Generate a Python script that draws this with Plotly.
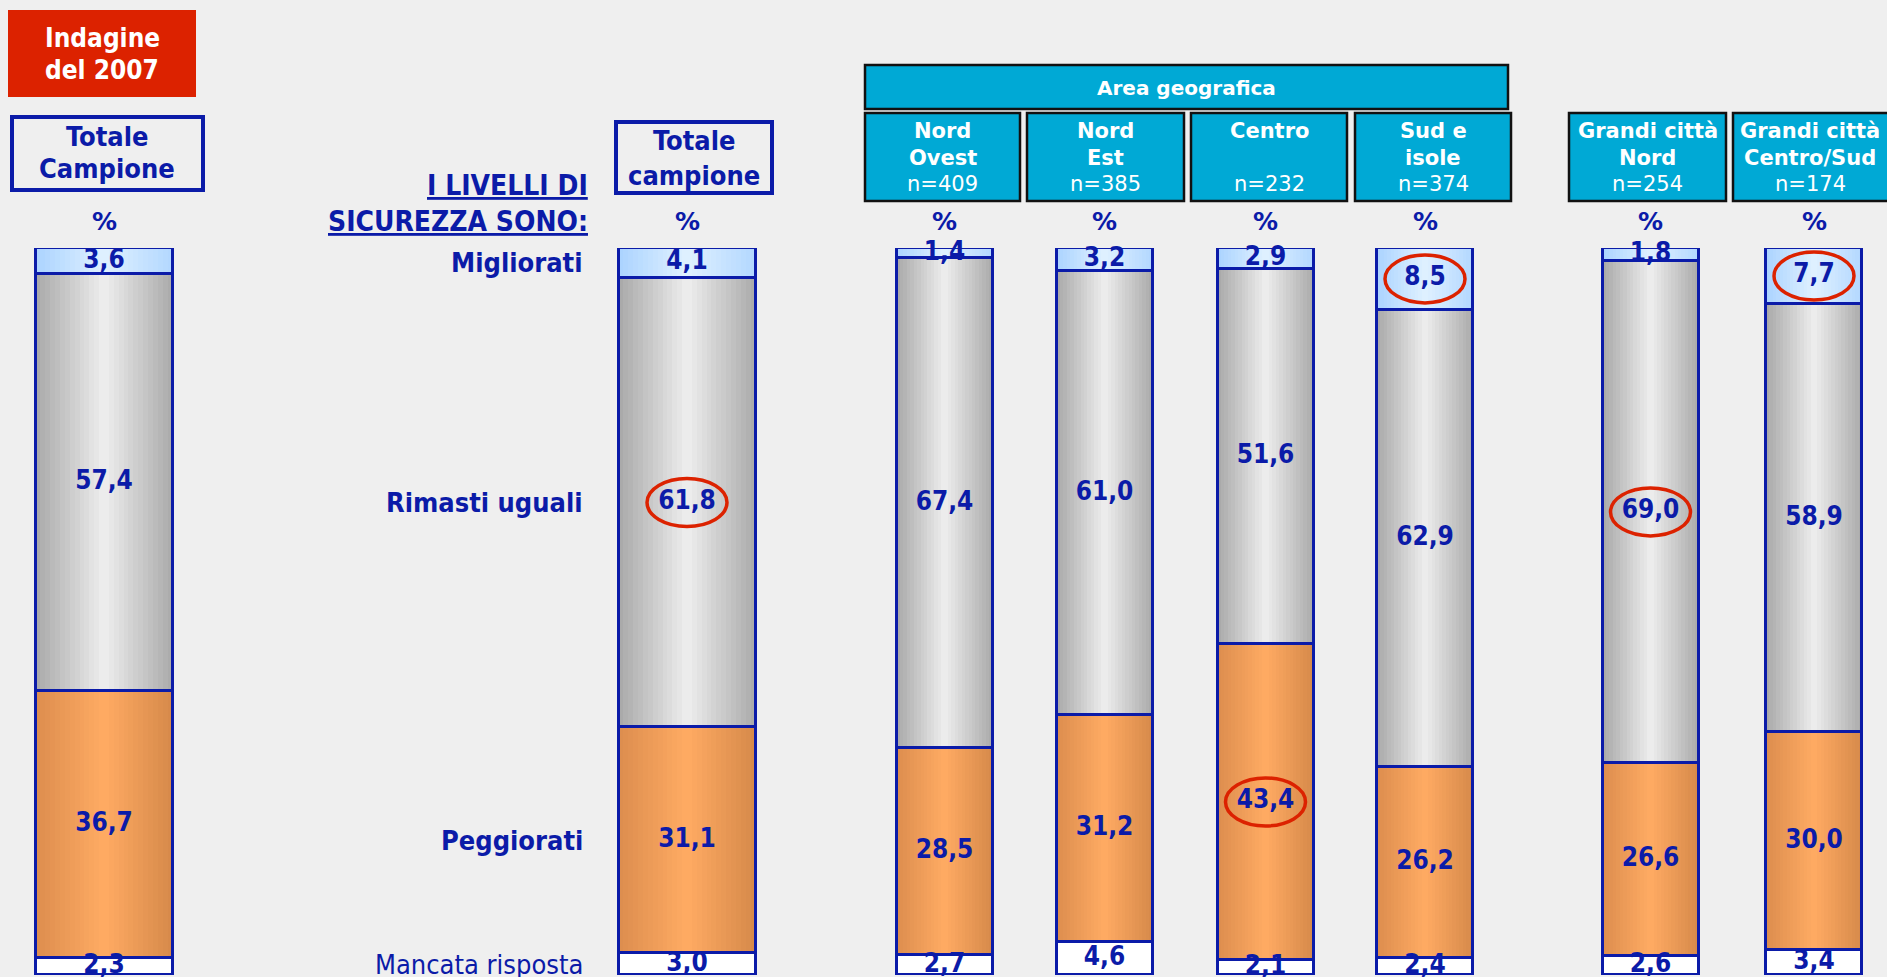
import plotly.graph_objects as go

# ---------------- data ----------------
groups = ["Totale Campione 2007", "Totale campione", "Nord Ovest", "Nord Est",
          "Centro", "Sud e isole", "Grandi città Nord", "Grandi città Centro/Sud"]
migliorati = [3.6, 4.1, 1.4, 3.2, 2.9, 8.5, 1.8, 7.7]
rimasti = [57.4, 61.8, 67.4, 61.0, 51.6, 62.9, 69.0, 58.9]
peggiorati = [36.7, 31.1, 28.5, 31.2, 43.4, 26.2, 26.6, 30.0]
mancata = [2.3, 3.0, 2.7, 4.6, 2.1, 2.4, 2.6, 3.4]
levels = ["Mancata risposta", "Peggiorati", "Rimasti uguali", "Migliorati"]  # bottom -> top
header_line1 = ["Nord", "Nord", "Centro", "Sud e", "Grandi città", "Grandi città"]
header_line2 = ["Ovest", "Est", "", "isole", "Nord", "Centro/Sud"]
sample_sizes = [409, 385, 232, 374, 254, 174]
# highlighted (circled) values: level -> group indexes
highlights = {"Rimasti uguali": [1, 6], "Peggiorati": [4], "Migliorati": [5, 7]}

values = {"Mancata risposta": mancata, "Peggiorati": peggiorati,
          "Rimasti uguali": rimasti, "Migliorati": migliorati}

# ---------------- layout / style constants ----------------
W, H = 1887, 977
bar_x = [104, 687, 944.5, 1104.5, 1265.5, 1425, 1650.5, 1814]
bar_w = [137, 137, 96, 96, 96, 96, 96, 96]
BLUE = "#0B1BA8"
BG = "#EFEFEF"
CYAN = "#00A9D5"
RED = "#DC2200"
FONT = "DejaVu Sans Condensed"
FONT_WIDE = "DejaVu Sans"
N_STRIPS = 28

gradients = {
    "Peggiorati": [(220, 141, 78), (255, 171, 99), (214, 137, 74)],
    "Rimasti uguali": [(168, 168, 168), (238, 238, 238), (170, 170, 170)],
    "Migliorati": [(170, 211, 255), (224, 241, 255), (178, 215, 255)],
    "Mancata risposta": [(255, 255, 255), (255, 255, 255), (255, 255, 255)],
}


def grad_color(spec, t):
    a, c, b = spec
    if t < 0.5:
        s = t / 0.5
        p, q = a, c
    else:
        s = (t - 0.5) / 0.5
        p, q = c, b
    r = [round(p[k] + (q[k] - p[k]) * s) for k in range(3)]
    return f"rgb({r[0]},{r[1]},{r[2]})"


def fmt(v):
    return f"{v:.1f}".replace(".", ",")


# stacked bases
bases = {}
cum = [0.0] * len(groups)
for lv in levels:
    bases[lv] = cum[:]
    cum = [c + v for c, v in zip(cum, values[lv])]

fig = go.Figure()

# gradient fills (vertical strips)
for lv in levels:
    vals = values[lv]
    for i in range(N_STRIPS):
        t = (i + 0.5) / N_STRIPS
        fig.add_trace(go.Bar(
            x=bar_x, y=vals, base=bases[lv],
            width=[w / N_STRIPS + 0.8 for w in bar_w],
            offset=[-w / 2 + i * w / N_STRIPS for w in bar_w],
            marker=dict(color=grad_color(gradients[lv], t), line=dict(width=0)),
            hoverinfo="skip", showlegend=False,
        ))

# outlines
for lv in levels:
    fig.add_trace(go.Bar(
        x=bar_x, y=values[lv], base=bases[lv], width=bar_w,
        marker=dict(color="rgba(0,0,0,0)", line=dict(color=BLUE, width=3)),
        name=lv, hoverinfo="skip", showlegend=False,
    ))

# value labels
tx, ty, tt = [], [], []
for lv in levels:
    for gi in range(len(groups)):
        tx.append(bar_x[gi])
        ty.append(bases[lv][gi] + values[lv][gi] / 2)
        tt.append(fmt(values[lv][gi]))
fig.add_trace(go.Scatter(
    x=tx, y=ty, text=tt, mode="text", textposition="middle center",
    textfont=dict(family=FONT, size=26, color=BLUE, weight="bold"),
    cliponaxis=False, hoverinfo="skip", showlegend=False,
))

shapes = []
annotations = []

# red circles around highlighted values
for lv, idxs in highlights.items():
    for gi in idxs:
        mid = bases[lv][gi] + values[lv][gi] / 2
        shapes.append(dict(type="circle", xref="x", yref="y",
                           x0=bar_x[gi] - 40, x1=bar_x[gi] + 40,
                           y0=mid - 3.3, y1=mid + 3.3,
                           line=dict(color=RED, width=3.5)))


def py(y):
    return (H - y) / H


def rect(x0, y0, x1, y1, fill, line_color, lw):
    shapes.append(dict(type="rect", xref="paper", yref="paper",
                       x0=x0 / W, x1=x1 / W, y0=py(y1), y1=py(y0),
                       fillcolor=fill, line=dict(color=line_color, width=lw),
                       layer="below"))


def text(t, x, y, size, color, bold=True, xanchor="center", family=FONT):
    annotations.append(dict(xref="paper", yref="paper", x=x / W, y=py(y),
                            text=t, showarrow=False, xanchor=xanchor,
                            yanchor="middle", align="center",
                            font=dict(family=family, size=size, color=color,
                                      weight="bold" if bold else "normal")))


# red title box
rect(8, 10, 196, 97, RED, RED, 0)
text("Indagine", 102, 38, 26, "white")
text("del 2007", 102, 70, 26, "white")

# Totale Campione (2007) box
rect(12, 117, 203, 190, BG, BLUE, 4)
text("Totale", 107, 137, 27, BLUE)
text("Campione", 107, 168, 27, BLUE)

# Totale campione box
rect(616, 122, 772, 193, BG, BLUE, 4)
text("Totale", 694, 141, 27, BLUE)
text("campione", 694, 175, 27, BLUE)

# question label
text("<u>I LIVELLI DI</u>", 590, 186, 28, BLUE, xanchor="right")
text("<u>SICUREZZA SONO:</u>", 590, 222, 28, BLUE, xanchor="right")

# level labels aligned with the "Totale campione" bar segments
label_y0, label_y100 = 975, 248
for lv in levels:
    mid = bases[lv][1] + values[lv][1] / 2
    ypx = label_y0 - (label_y0 - label_y100) * mid / 100
    text(lv, 585, ypx, 27, BLUE,
         bold=(lv != "Mancata risposta"), xanchor="right")

# "%" above every bar
for gx in bar_x:
    text("%", gx, 222, 25, BLUE, family=FONT_WIDE)

# Area geografica header
rect(865, 65, 1508, 109, CYAN, "#111111", 2.5)
text("Area geografica", 1186, 88, 20, "white", family=FONT_WIDE)

hdr_boxes = [(865, 1020), (1027, 1184), (1191, 1347), (1355, 1511), (1569, 1726), (1733, 1895)]
for (x0, x1), l1, l2, n in zip(hdr_boxes, header_line1, header_line2, sample_sizes):
    rect(x0, 113, x1, 201, CYAN, "#111111", 2.5)
    cx = (x0 + x1) / 2 if x1 < W else 1810
    text(l1, cx, 131, 21, "white", family=FONT_WIDE)
    if l2:
        text(l2, cx, 158, 21, "white", family=FONT_WIDE)
    text(f"n={n}", cx, 184, 21, "white", bold=False, family=FONT_WIDE)

fig.update_layout(
    width=W, height=H, autosize=False,
    margin=dict(l=0, r=0, t=0, b=0, pad=0),
    paper_bgcolor=BG, plot_bgcolor=BG,
    barmode="overlay", bargap=0,
    showlegend=False,
    xaxis=dict(range=[0, W], domain=[0, 1], visible=False, fixedrange=True),
    yaxis=dict(range=[0, 100], domain=[(H - 975) / H, (H - 248) / H],
               visible=False, fixedrange=True),
    shapes=shapes, annotations=annotations,
    hovermode=False,
)

fig.write_html(
    "out.html",
    config={"displayModeBar": False},
    post_script="document.body.style.margin='0';document.body.style.overflow='hidden';"
                "document.body.style.background='" + BG + "';",
)
